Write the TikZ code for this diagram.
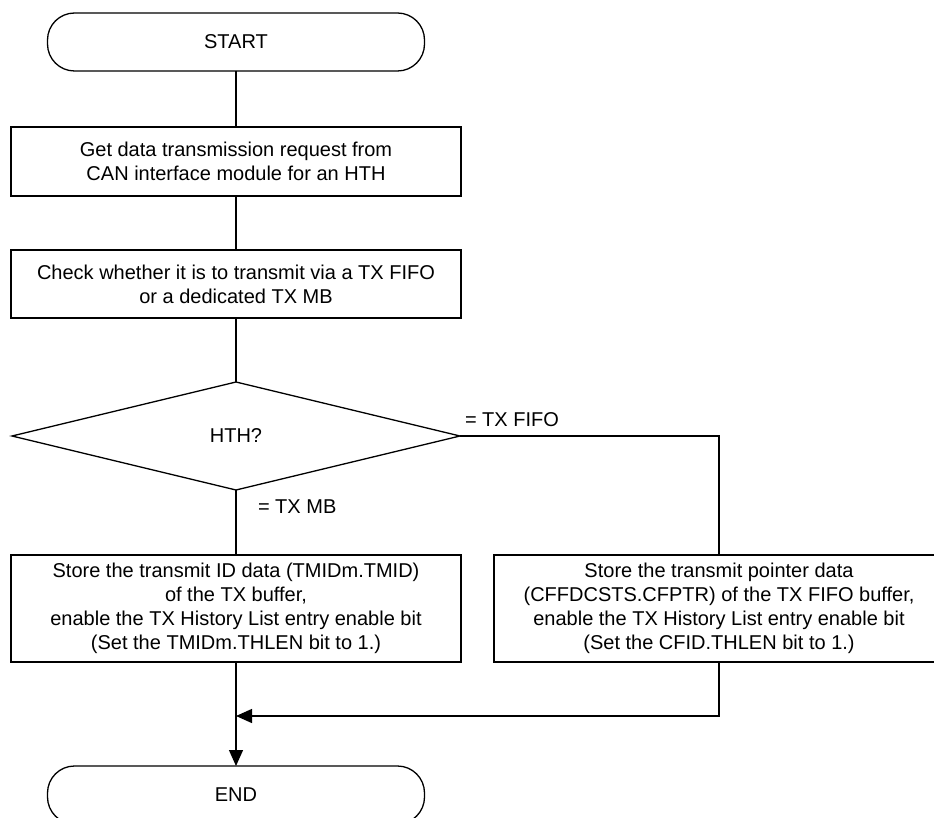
\documentclass[tikz,border=0pt]{standalone}
\usepackage{fontspec}
\setmainfont{Liberation Sans}
\usetikzlibrary{arrows.meta}
\begin{document}
\begin{tikzpicture}[x=1pt,y=-1pt,
  every node/.style={font=\fontsize{20}{24}\selectfont, inner sep=0pt, outer sep=0pt},
  line/.style={line width=1.3pt, draw=black},
  term/.style={line, rounded corners=27pt, minimum width=377pt, minimum height=58pt},
  procbox/.style={line, rectangle, minimum width=450pt, align=center},
  arr/.style={line, -{Triangle[length=16pt,width=14pt]}},
  lbl/.style={anchor=west}]
\useasboundingbox (0,0) rectangle (934,818);
\node[term] (start) at (236,42) {START};
\node[procbox, minimum height=69pt] (b1) at (236,161.5) {Get data transmission request from\\CAN interface module for an HTH};
\node[procbox, minimum height=68pt] (b2) at (236,284) {Check whether it is to transmit via a TX FIFO\\or a dedicated TX MB};
\coordinate (dc) at (236,436);
\coordinate (dn) at (236,382);
\coordinate (ds) at (236,490);
\coordinate (dw) at (12,436);
\coordinate (de) at (460,436);
\draw[line] (dn) -- (de) -- (ds) -- (dw) -- cycle;
\node (hth) at (dc) {HTH?};
\node[procbox, minimum height=107pt] (b3) at (236,608.5) {Store the transmit ID data (TMIDm.TMID)\\of the TX buffer,\\enable the TX History List entry enable bit\\(Set the TMIDm.THLEN bit to 1.)};
\node[procbox, minimum height=107pt] (b4) at (719,608.5) {Store the transmit pointer data\\(CFFDCSTS.CFPTR) of the TX FIFO buffer,\\enable the TX History List entry enable bit\\(Set the CFID.THLEN bit to 1.)};
\node[term] (end) at (236,795) {END};
\coordinate (merge) at (236,716);
\node[lbl] (lfifo) at (465,420) {= TX FIFO};
\node[lbl] (lmb) at (258,507) {= TX MB};
\draw[line] (start.south) -- (b1.north);
\draw[line] (b1.south) -- (b2.north);
\draw[line] (b2.south) -- (dn);
\draw[line] (ds) -- (b3.north);
\draw[line] (de) -| (b4.north);
\draw[arr] (b3.south) -- (end.north);
\draw[arr] (b4.south) |- (merge);
\end{tikzpicture}
\end{document}
